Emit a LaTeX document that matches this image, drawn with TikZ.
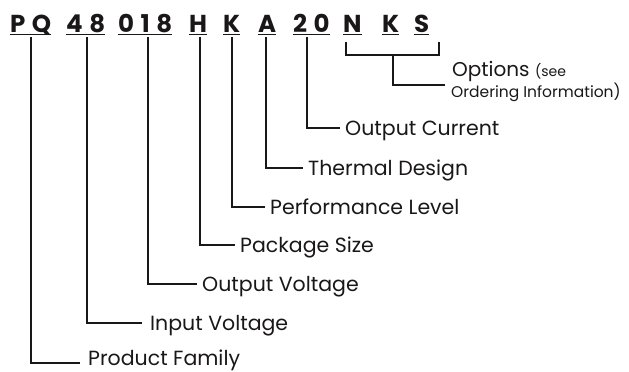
\documentclass[tikz,border=0pt]{standalone}
\usepackage{fontspec}
\newfontfamily\hdrfont{Poppins}[UprightFont=* Bold]
\newfontfamily\lblfont{Poppins}
\definecolor{ink}{HTML}{1A1718}
\newcommand\lsp{\kern 6.5pt}
\begin{document}
\begin{tikzpicture}[x=1pt,y=-1pt,
  seg/.style={anchor=base west, inner sep=0pt, text=ink, font=\hdrfont\fontsize{24.5}{28}\selectfont},
  lbl/.style={anchor=west, inner xsep=5pt, inner ysep=0pt, text=ink, text height=15pt, text depth=0pt,
    font=\lblfont\fontsize{20.5}{25}\selectfont},
  small/.style={anchor=base west, inner sep=0pt, text=ink},
  wire/.style={draw=ink, line width=2pt, line join=miter},
  uline/.style={draw=ink, line width=1.4pt}]
\useasboundingbox (0,0) rectangle (629,372);
% header code segments
\node[seg] (pq)  at (10,32)  {P\lsp Q};
\node[seg] (v48) at (66,32)  {4\lsp 8};
\node[seg] (v018) at (118,32) {0\lsp 1\lsp 8};
\node[seg] (h)   at (189,32) {H};
\node[seg] (k)   at (223,32) {K};
\node[seg] (a)   at (258,32) {A};
\node[seg] (c20) at (293,32) {2\lsp 0};
\node[seg] (n)   at (343,32) {N};
\node[seg] (k2)  at (382,32) {K};
\node[seg] (s)   at (414,32) {S};
\foreach \m in {pq,v48,v018,h,k,a,c20,n,k2,s}
  \draw[uline] ([yshift=-2.5pt]\m.base west) -- ([yshift=-2.5pt]\m.base east);
% labels
\node[lbl, inner xsep=8pt, text height=5pt] (lpf) at (80,363) {Product Family};
\node[lbl, inner xsep=8pt] (liv) at (142,323) {Input Voltage};
\node[lbl] (lov) at (197,284) {Output Voltage};
\node[lbl] (lps) at (235,245) {Package Size};
\node[lbl] (lpl) at (265,207) {Performance Level};
\node[lbl] (ltd) at (303,168) {Thermal Design};
\node[lbl] (loc) at (340,128) {Output Current};
\node[small, font=\lblfont\fontsize{20}{25}\selectfont] (opt) at (452,76)
  {Options {\fontsize{14}{18}\selectfont(see}};
\node[small, font=\lblfont\fontsize{15.5}{20}\selectfont] (opt2) at (451,97) {Ordering Information)};
% connectors
\draw[wire] ([yshift=-5pt]pq.base) |- (lpf.west);
\draw[wire] ([xshift=1pt,yshift=-5pt]v48.base) |- (liv.west);
\draw[wire] ([xshift=3pt,yshift=-5pt]v018.base) |- (lov.west);
\draw[wire] ([xshift=1.5pt,yshift=-5pt]h.base) |- (lps.west);
\draw[wire] ([xshift=0.5pt,yshift=-5pt]k.base) |- (lpl.west);
\draw[wire] ([xshift=-1.5pt,yshift=-5pt]a.base) |- (ltd.west);
\draw[wire] ([xshift=-4pt,yshift=-5pt]c20.base) |- (loc.west);
% options bracket
\coordinate (bl) at (346,42);
\coordinate (bm) at (392.5,55);
\coordinate (br) at (439,42);
\coordinate (oend) at (445,85);
\draw[wire] (bl) |- (br |- bm) -- (br);
\draw[wire] (bm) |- (oend);
\end{tikzpicture}
\end{document}
